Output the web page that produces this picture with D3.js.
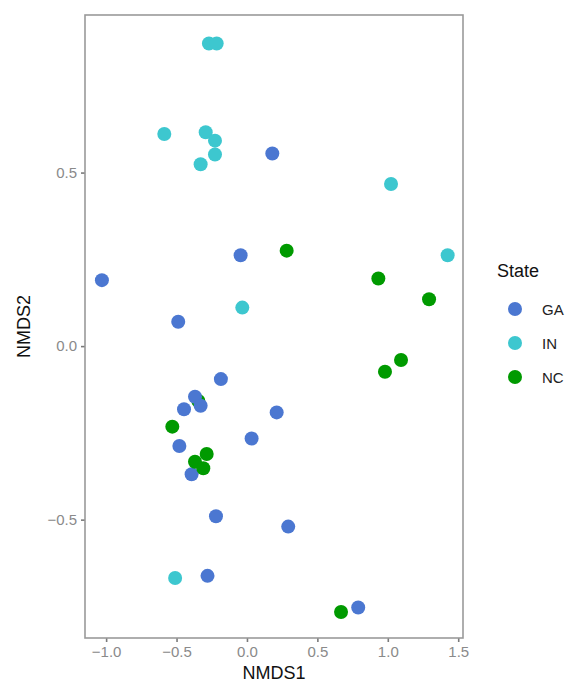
<!DOCTYPE html>
<html>
<head>
<meta charset="utf-8">
<script src="https://cdn.jsdelivr.net/npm/d3@7"></script>
<style>
  html, body { margin: 0; padding: 0; background: #fff; }
  svg { display: block; }
</style>
</head>
<body>
<svg id="chart" width="571" height="690"></svg>
<script>
// ---- Data (draw order) ----
const nmds1 = [-0.345, -1.03, 0.18, -0.045, -0.488, -0.185, -0.369, -0.329, -0.447, -0.48, 0.033, 0.211, -0.393, -0.22, 0.293, -0.28, 0.79,
  -0.27, -0.215, -0.587, -0.293, -0.227, -0.227, -0.329, 1.023, 1.425, -0.033, -0.51,
  0.282, 0.933, 1.293, 0.98, 1.094, -0.53, -0.286, -0.369, -0.31, 0.668];
const nmds2 = [-0.158, 0.19, 0.555, 0.262, 0.07, -0.095, -0.146, -0.172, -0.182, -0.288, -0.266, -0.191, -0.369, -0.49, -0.52, -0.662, -0.753,
  0.872, 0.872, 0.611, 0.616, 0.592, 0.552, 0.524, 0.467, 0.262, 0.111, -0.668,
  0.275, 0.195, 0.135, -0.074, -0.04, -0.232, -0.311, -0.333, -0.352, -0.766];
const state = ["NC", "GA", "GA", "GA", "GA", "GA", "GA", "GA", "GA", "GA", "GA", "GA", "GA", "GA", "GA", "GA", "GA",
  "IN", "IN", "IN", "IN", "IN", "IN", "IN", "IN", "IN", "IN", "IN",
  "NC", "NC", "NC", "NC", "NC", "NC", "NC", "NC", "NC", "NC"];
const states = ["GA", "IN", "NC"];
const stateColors = ["#4B77D1", "#3DC7CF", "#009A00"];
const xTicks = [-1.0, -0.5, 0.0, 0.5, 1.0, 1.5];
const yTicks = [-0.5, 0.0, 0.5];

// ---- Layout ----
const svg = d3.select("#chart");
const panel = { left: 85, top: 15, right: 463, bottom: 638 };
const x = d3.scaleLinear().domain([-1.15, 1.534]).range([panel.left, panel.right]);
const y = d3.scaleLinear().domain([-0.841, 0.954]).range([panel.bottom, panel.top]);
const color = d3.scaleOrdinal().domain(states).range(stateColors);
const fmt = v => d3.format(".1f")(v).replace("-", "\u2212");
const font = "'Liberation Sans', Arial, Helvetica, sans-serif";

// axes
const xAxis = d3.axisBottom(x).tickValues(xTicks).tickFormat(fmt).tickSize(4).tickPadding(4);
const yAxis = d3.axisLeft(y).tickValues(yTicks).tickFormat(fmt).tickSize(4).tickPadding(4);

const gx = svg.append("g").attr("transform", `translate(0,${panel.bottom})`).call(xAxis);
const gy = svg.append("g").attr("transform", `translate(${panel.left},0)`).call(yAxis);
[gx, gy].forEach(g => {
  g.select(".domain").remove();
  g.selectAll(".tick line").attr("stroke", "#7a7a7a").attr("stroke-width", 1.6);
  g.selectAll(".tick text").attr("fill", "#8a8a8a").style("font-family", font).style("font-size", "15px");
});

// points
svg.append("g").selectAll("circle")
  .data(nmds1.map((v, i) => ({ x: v, y: nmds2[i], s: state[i] })))
  .join("circle")
  .attr("cx", d => x(d.x))
  .attr("cy", d => y(d.y))
  .attr("r", 7)
  .attr("fill", d => color(d.s));

// panel border
svg.append("rect")
  .attr("x", panel.left).attr("y", panel.top)
  .attr("width", panel.right - panel.left).attr("height", panel.bottom - panel.top)
  .attr("fill", "none").attr("stroke", "#9a9a9a").attr("stroke-width", 1.6);

// axis titles
svg.append("text").attr("x", (panel.left + panel.right) / 2).attr("y", 679)
  .attr("text-anchor", "middle").style("font-family", font).style("font-size", "18px").attr("fill", "#111")
  .text("NMDS1");
svg.append("text").attr("transform", `translate(30,${(panel.top + panel.bottom) / 2}) rotate(-90)`)
  .attr("text-anchor", "middle").style("font-family", font).style("font-size", "18px").attr("fill", "#111")
  .text("NMDS2");

// legend
const lg = svg.append("g");
lg.append("text").attr("x", 497).attr("y", 277).style("font-family", font).style("font-size", "18px").attr("fill", "#111").text("State");
const items = lg.selectAll("g.item").data(states).join("g").attr("class", "item")
  .attr("transform", (d, i) => `translate(515,${309 + i * 34})`);
items.append("circle").attr("r", 7).attr("fill", d => color(d));
items.append("text").attr("x", 27).attr("y", 5.5).style("font-family", font).style("font-size", "15px").attr("fill", "#222").text(d => d);
</script>
</body>
</html>
